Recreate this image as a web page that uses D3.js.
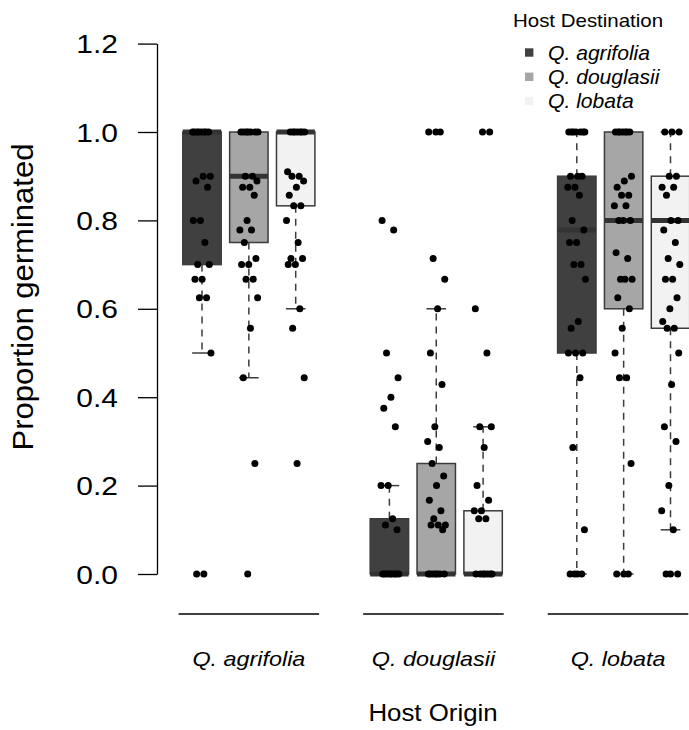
<!DOCTYPE html>
<html><head><meta charset="utf-8">
<script src="https://cdn.jsdelivr.net/npm/d3@7"></script>
<style>
body{margin:0;background:#fff}
svg{display:block}
text{font-family:"Liberation Sans",Arial,Helvetica,sans-serif;fill:#000}
</style>
</head><body>
<svg id="c" width="689" height="730"></svg>
<script>
// ---------- data ----------
const origins = ["Q. agrifolia", "Q. douglasii", "Q. lobata"];
const destinations = ["Q. agrifolia", "Q. douglasii", "Q. lobata"];
const destColors = ["#404040", "#a6a6a6", "#f2f2f2"];
const yTicks = [0, 0.2, 0.4, 0.6, 0.8, 1.0, 1.2];

// box statistics, order: origin-major (A-A, A-D, A-L, D-A, ... L-L)
const boxLow  = [0.5, 0.444, 0.6,   0, 0,    0,     0,     0,    0.1];
const boxQ1   = [0.7, 0.75,  0.833, 0, 0,    0,     0.5,   0.6,  0.556];
const boxMed  = [1.0, 0.9,   1.0,   0, 0,    0,     0.778, 0.8,  0.8];
const boxQ3   = [1.0, 1.0,   1.0,   0.125, 0.25, 0.143, 0.9, 1.0, 0.9];
const boxHigh = [1.0, 1.0,   1.0,   0.2, 0.6,  0.333, 1.0,   1.0,  1.0];

// individual observations
const ptsAA = [1,1,1,1,1,1,1,1, 0.9,0.9,0.889,0.875, 0.8,0.8, 0.75, 0.7,0.7, 0.667,0.667, 0.625,0.625, 0.5, 0,0];
const ptsAD = [1,1,1,1,1,1,1, 0.9,0.9,0.889, 0.875,0.875, 0.857, 0.8, 0.778,0.778, 0.75, 0.714, 0.7,0.7, 0.667,0.667, 0.625, 0.556, 0.444, 0.25, 0];
const ptsAL = [1,1,1,1,1,1,1, 0.91, 0.9,0.9, 0.889, 0.875, 0.857, 0.833,0.833, 0.8, 0.75, 0.714,0.714, 0.7,0.7, 0.6, 0.556, 0.444, 0.25];
const ptsDA = [0.8, 0.778, 0.5, 0.444, 0.4, 0.375, 0.333, 0.2,0.2, 0.125, 0.111, 0.1, 0,0,0,0,0,0,0,0];
const ptsDD = [1,1,1, 0.714, 0.667, 0.6, 0.5, 0.429, 0.333, 0.3, 0.286, 0.25, 0.222, 0.2, 0.167, 0.143, 0.125, 0.111,0.111,0.111, 0.1, 0,0,0,0,0,0,0];
const ptsDL = [1,1, 0.6, 0.5, 0.333,0.333, 0.286, 0.2, 0.167, 0.143,0.143, 0.125,0.125, 0,0,0,0,0,0,0];
const ptsLA = [1,1,1,1,1,1,1, 0.9,0.9,0.9, 0.875,0.875, 0.857, 0.8, 0.778, 0.75,0.75, 0.7,0.7, 0.667, 0.571, 0.556, 0.5,0.5,0.5, 0.444, 0.286, 0.1, 0,0,0,0];
const ptsLD = [1,1,1,1,1,1,1, 0.9, 0.889, 0.875, 0.857,0.857, 0.833,0.833, 0.8,0.8,0.8, 0.727, 0.714, 0.667,0.667,0.667, 0.625, 0.6, 0.556, 0.5, 0.444,0.444, 0.25, 0,0,0];
const ptsLL = [1,1,1, 0.9,0.9, 0.875,0.875, 0.857, 0.8,0.8, 0.778, 0.75, 0.714, 0.7, 0.667,0.667, 0.625, 0.6, 0.571, 0.556,0.556, 0.5, 0.429, 0.333, 0.3, 0.2, 0.143, 0.1, 0,0,0];
const points = [ptsAA, ptsAD, ptsAL, ptsDA, ptsDD, ptsDL, ptsLA, ptsLD, ptsLL];

// ---------- drawing ----------
const svg = d3.select("#c");
const FONT = '"Liberation Sans",Arial,Helvetica,sans-serif';

const x = d3.scaleLinear().domain([1, 11]).range([202, 670.5]);
const y = d3.scaleLinear().domain([0, 1.2]).range([574, 43.6]);
const boxHalf = 0.41, capHalf = 0.21, jitterW = 0.2;

function scaledText(g, tx, ty, str, size, sx, anchor, opts = {}) {
  const grp = g.append("g").attr("transform", `translate(${tx},${ty})` + (opts.rotate ? ` rotate(${opts.rotate})` : ""));
  const t = grp.append("text")
    .attr("transform", `scale(${sx},1)`)
    .attr("text-anchor", anchor)
    .style("font-size", size + "px")
    .style("font-style", opts.italic ? "italic" : "normal")
    .text(str);
  return t;
}

// y axis
const yAxis = d3.axisLeft(y).tickValues(yTicks).tickSize(19).tickSizeOuter(0)
  .tickFormat(d3.format(".1f"));
const ag = svg.append("g").attr("transform", "translate(157,0)").call(yAxis);
ag.select(".domain").attr("stroke", "#000").attr("stroke-width", 1.3);
ag.selectAll(".tick line").attr("stroke", "#000").attr("stroke-width", 1.3);
ag.selectAll(".tick text")
  .attr("x", null).attr("dy", null)
  .attr("transform", "translate(-39,9) scale(1.2,1)")
  .attr("text-anchor", "end")
  .style("font-family", FONT).style("font-size", "25px").attr("fill", "#000");

// y title
scaledText(svg, 33, 297, "Proportion germinated", 29, 1.07, "middle", { rotate: -90 });

// group axis segments and labels
const groupCenters = [2, 5.94, 9.88];
svg.append("g").selectAll("line").data(origins).join("line")
  .attr("x1", (d, i) => x(groupCenters[i] - 1.5))
  .attr("x2", (d, i) => x(groupCenters[i] + 1.5))
  .attr("y1", 614).attr("y2", 614)
  .attr("stroke", "#000").attr("stroke-width", 1.3);
origins.forEach((o, i) => scaledText(svg, x(groupCenters[i]), 666, o, 20.5, 1.14, "middle", { italic: true }));
scaledText(svg, 433, 721, "Host Origin", 23.5, 1.1, "middle");

// boxes
const boxes = d3.range(9).map(i => ({
  i, pos: Math.floor(i / 3) * 4 + (i % 3) + 1, dest: i % 3,
  lo: boxLow[i], q1: boxQ1[i], med: boxMed[i], q3: boxQ3[i], hi: boxHigh[i], pts: points[i]
}));
const bg = svg.append("g");
boxes.forEach(b => {
  const g = bg.append("g");
  const cx = x(b.pos);
  // whiskers (dashed)
  g.append("line").attr("x1", cx).attr("x2", cx).attr("y1", y(b.q3)).attr("y2", y(b.hi))
    .attr("stroke", "#3c3c3c").attr("stroke-width", 1.5).attr("stroke-dasharray", "7,6");
  g.append("line").attr("x1", cx).attr("x2", cx).attr("y1", y(b.q1)).attr("y2", y(b.lo))
    .attr("stroke", "#3c3c3c").attr("stroke-width", 1.5).attr("stroke-dasharray", "7,6");
  // caps
  [b.lo, b.hi].forEach(v => g.append("line")
    .attr("x1", x(b.pos - capHalf)).attr("x2", x(b.pos + capHalf))
    .attr("y1", y(v)).attr("y2", y(v)).attr("stroke", "#3c3c3c").attr("stroke-width", 1.5));
  // box
  g.append("rect")
    .attr("x", x(b.pos - boxHalf)).attr("width", x(b.pos + boxHalf) - x(b.pos - boxHalf))
    .attr("y", y(b.q3)).attr("height", Math.max(0, y(b.q1) - y(b.q3)))
    .attr("fill", destColors[b.dest]).attr("stroke", "#3c3c3c").attr("stroke-width", 1.5);
  // median
  g.append("line")
    .attr("x1", x(b.pos - boxHalf)).attr("x2", x(b.pos + boxHalf))
    .attr("y1", y(b.med)).attr("y2", y(b.med))
    .attr("stroke", "#333").attr("stroke-width", 5);
});

// points (deterministic jitter)
const pg = svg.append("g");
boxes.forEach(b => {
  pg.selectAll(null).data(b.pts).join("circle")
    .attr("cx", (v, k) => x(b.pos + (((k * 0.6180339 + b.i * 0.37) % 1) - 0.5) * 2 * jitterW))
    .attr("cy", v => y(v))
    .attr("r", 3.5).attr("fill", "#000");
});

// legend
const lg = svg.append("g");
scaledText(lg, 513, 26.5, "Host Destination", 18.6, 1.1, "start");
destinations.forEach((d, i) => {
  const cy = 52.5 + i * 24.3;
  lg.append("rect").attr("x", 525).attr("y", cy - 4.2).attr("width", 8.4).attr("height", 8.4)
    .attr("fill", destColors[i]);
  scaledText(lg, 548, cy + 7, d, 20.5, 1.03, "start", { italic: true });
});
</script>
</body></html>
